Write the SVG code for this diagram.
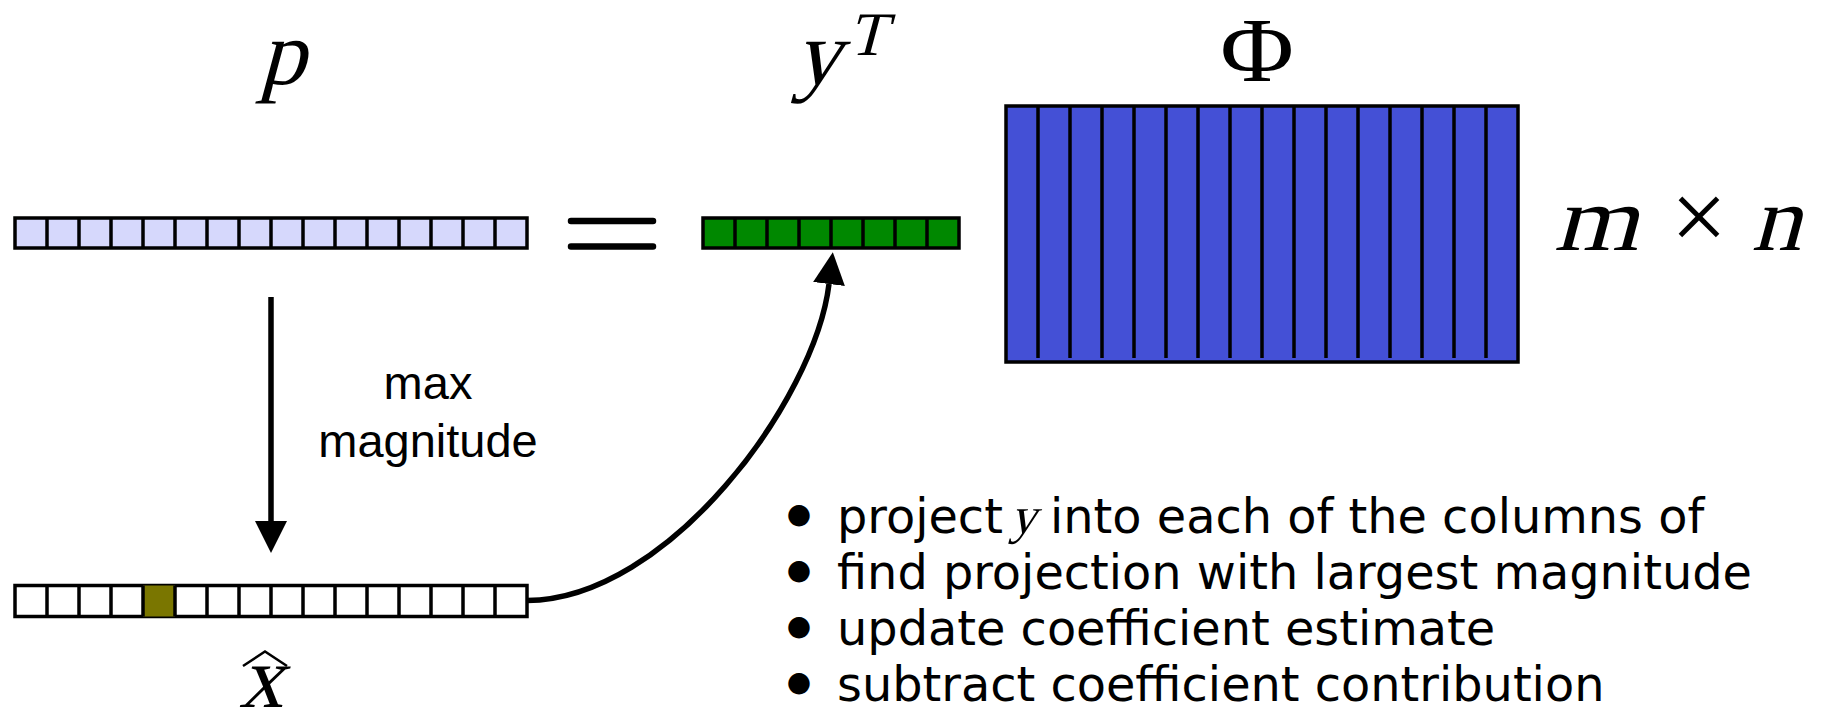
<svg xmlns="http://www.w3.org/2000/svg" width="1829" height="713" viewBox="0 0 1829 713">
<style>
.math{font-family:"Liberation Serif","Times New Roman",serif;font-style:normal;fill:#000}
.up{font-family:"Liberation Serif","Times New Roman",serif;fill:#000}
.box{stroke:#000;stroke-width:3.5}
.div{stroke:#000;stroke-width:3.5;fill:none}
.sans{font-family:"Liberation Sans",Arial,sans-serif;font-size:47px;fill:#000}
.bul{font-family:"DejaVu Sans",Verdana,sans-serif;font-size:47.8px;fill:#000}
.dot{font-size:28px}
.conn{fill:none;stroke:#000;stroke-width:5.5}
</style>
<defs>
<marker id="ah" markerUnits="userSpaceOnUse" markerWidth="34" markerHeight="34" refX="0" refY="16" orient="auto">
<path d="M0,0 L32,16 L0,32 z" fill="#000"/>
</marker>
</defs>
<rect width="1829" height="713" fill="#fff"/>

<g id="p-vector">
<text class="math" transform="translate(282,84) skewX(-15)" font-size="92" text-anchor="middle">p</text>
<rect class="box" x="15" y="218" width="512" height="30" fill="#d6d8fc"/>
<path class="div" d="M47,218V248M79,218V248M111,218V248M143,218V248M175,218V248M207,218V248M239,218V248M271,218V248M303,218V248M335,218V248M367,218V248M399,218V248M431,218V248M463,218V248M495,218V248"/>
</g>

<g id="equals">
<path d="M571,221H653M571,246.5H653" stroke="#000" stroke-width="6.5" stroke-linecap="round" fill="none"/>
</g>

<g id="yT-vector">
<text class="math" transform="translate(817,84) skewX(-15)" font-size="92" text-anchor="middle">y</text>
<text class="math" transform="translate(848,55) skewX(-15)" font-size="62">T</text>
<rect class="box" x="703" y="218" width="256" height="30" fill="#008800"/>
<path class="div" d="M735,218V248M767,218V248M799,218V248M831,218V248M863,218V248M895,218V248M927,218V248"/>
</g>

<g id="phi-matrix">
<text class="up" transform="translate(1257,81) scale(1.12,1)" font-size="90" text-anchor="middle">Φ</text>
<rect class="box" x="1006" y="106" width="512" height="256" fill="#4450d6"/>
<path class="div" d="M1038,106V358M1070,106V358M1102,106V358M1134,106V358M1166,106V358M1198,106V358M1230,106V358M1262,106V358M1294,106V358M1326,106V358M1358,106V358M1390,106V358M1422,106V358M1454,106V358M1486,106V358"/>
</g>

<g id="dims">
<text class="math" transform="translate(1596,250) skewX(-15) scale(1.18,1)" font-size="92" text-anchor="middle">m</text>
<text class="up" x="1699" y="250" font-size="100" text-anchor="middle">×</text>
<text class="math" transform="translate(1776,250) skewX(-15) scale(1.08,1)" font-size="92" text-anchor="middle">n</text>
</g>

<g id="xhat-vector">
<rect class="box" x="15" y="585.5" width="512" height="31" fill="#fff"/>
<rect x="143" y="585.5" width="32" height="31" fill="#7a7600"/>
<path class="div" d="M47,585.5V616.5M79,585.5V616.5M111,585.5V616.5M143,585.5V616.5M175,585.5V616.5M207,585.5V616.5M239,585.5V616.5M271,585.5V616.5M303,585.5V616.5M335,585.5V616.5M367,585.5V616.5M399,585.5V616.5M431,585.5V616.5M463,585.5V616.5M495,585.5V616.5"/>
<text class="math" transform="translate(261,707) skewX(-15)" font-size="88" text-anchor="middle">x</text>
<path d="M243,666 L265,651.5 L287,666" fill="none" stroke="#000" stroke-width="2.5"/>
</g>

<g id="max-label">
<text class="sans" x="428" y="399" text-anchor="middle">max</text>
<text class="sans" x="428" y="457" text-anchor="middle">magnitude</text>
</g>

<g id="steps">
<text class="bul" y="533"><tspan class="dot" x="799" dy="-10" text-anchor="middle">●</tspan><tspan x="837" dy="10">project</tspan></text>
<text class="math" transform="translate(1010,533) skewX(-15)" font-size="52">y</text>
<text class="bul" x="1050" y="533">into each of the columns of</text>
<text class="bul" y="589"><tspan class="dot" x="799" dy="-10" text-anchor="middle">●</tspan><tspan x="837" dy="10">find projection with largest magnitude</tspan></text>
<text class="bul" y="645"><tspan class="dot" x="799" dy="-10" text-anchor="middle">●</tspan><tspan x="837" dy="10">update coefficient estimate</tspan></text>
<text class="bul" y="701"><tspan class="dot" x="799" dy="-10" text-anchor="middle">●</tspan><tspan x="837" dy="10">subtract coefficient contribution</tspan></text>
</g>

<g id="connectors">
<path class="conn" d="M271,297 V521" marker-end="url(#ah)"/>
<path class="conn" d="M527,600.5 C668,600 815,400 829,284" marker-end="url(#ah)"/>
</g>
</svg>
